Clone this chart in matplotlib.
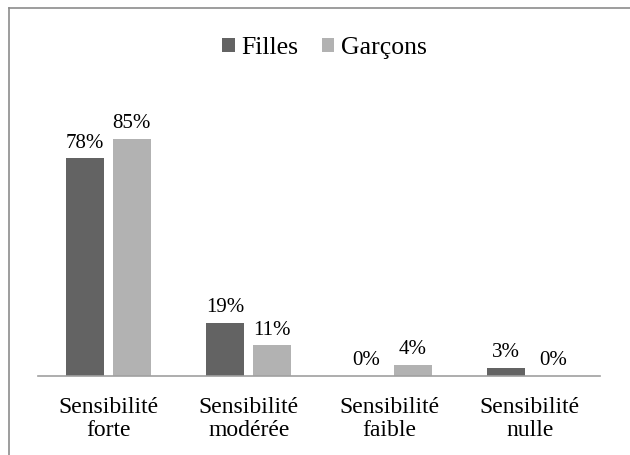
import matplotlib.pyplot as plt
import numpy as np
from matplotlib.lines import Line2D

categories = ["Sensibilité\nforte", "Sensibilité\nmodérée", "Sensibilité\nfaible", "Sensibilité\nnulle"]
filles = [78, 19, 0, 3]
garcons = [85, 11, 4, 0]

plt.rcParams['font.family'] = ['Liberation Serif', 'DejaVu Serif']

fig = plt.figure(figsize=[6.3, 4.55], dpi=100)
ax = fig.add_axes([0.0603, 0.1736, 0.892, 0.6132])

x = np.arange(len(categories))
w = 0.27
off = 0.167
b1 = ax.bar(x - off, filles, width=w, color="#636363", label="Filles")
b2 = ax.bar(x + off, garcons, width=w, color="#b2b2b2", label="Garçons")

for bars, vals in [(b1, filles), (b2, garcons)]:
    for bar, v in zip(bars, vals):
        ax.annotate(f"{v}%", (bar.get_x() + bar.get_width() / 2, v),
                    xytext=(0, 4), textcoords="offset points",
                    ha="center", va="bottom", fontsize=15)

ax.set_xlim(-0.5, len(categories) - 0.5)
ax.set_ylim(0, 100)
ax.set_xticks(x)
ax.set_xticklabels(categories, fontsize=17, linespacing=1.12)
ax.tick_params(axis="x", length=0, pad=15)
ax.set_yticks([])
for s in ["top", "right", "left"]:
    ax.spines[s].set_visible(False)
ax.spines["bottom"].set_color("#a0a0a0")
ax.spines["bottom"].set_linewidth(1.2)

fig.legend(loc="center", bbox_to_anchor=(0.515, 1 - 48 / 455), ncol=2,
           frameon=False, fontsize=18.5, handlelength=0.5, handleheight=0.5,
           handletextpad=0.25, columnspacing=0.9, borderpad=0)

# outer frame, open at right and bottom
fig.add_artist(Line2D([9 / 630, 1], [1 - 8 / 455] * 2, color="#8c8c8c", lw=1.2,
                      transform=fig.transFigure))
fig.add_artist(Line2D([9 / 630] * 2, [1 - 8 / 455, 0], color="#8c8c8c", lw=1.2,
                      transform=fig.transFigure))

fig.savefig("out.png", dpi=100, facecolor="white")
